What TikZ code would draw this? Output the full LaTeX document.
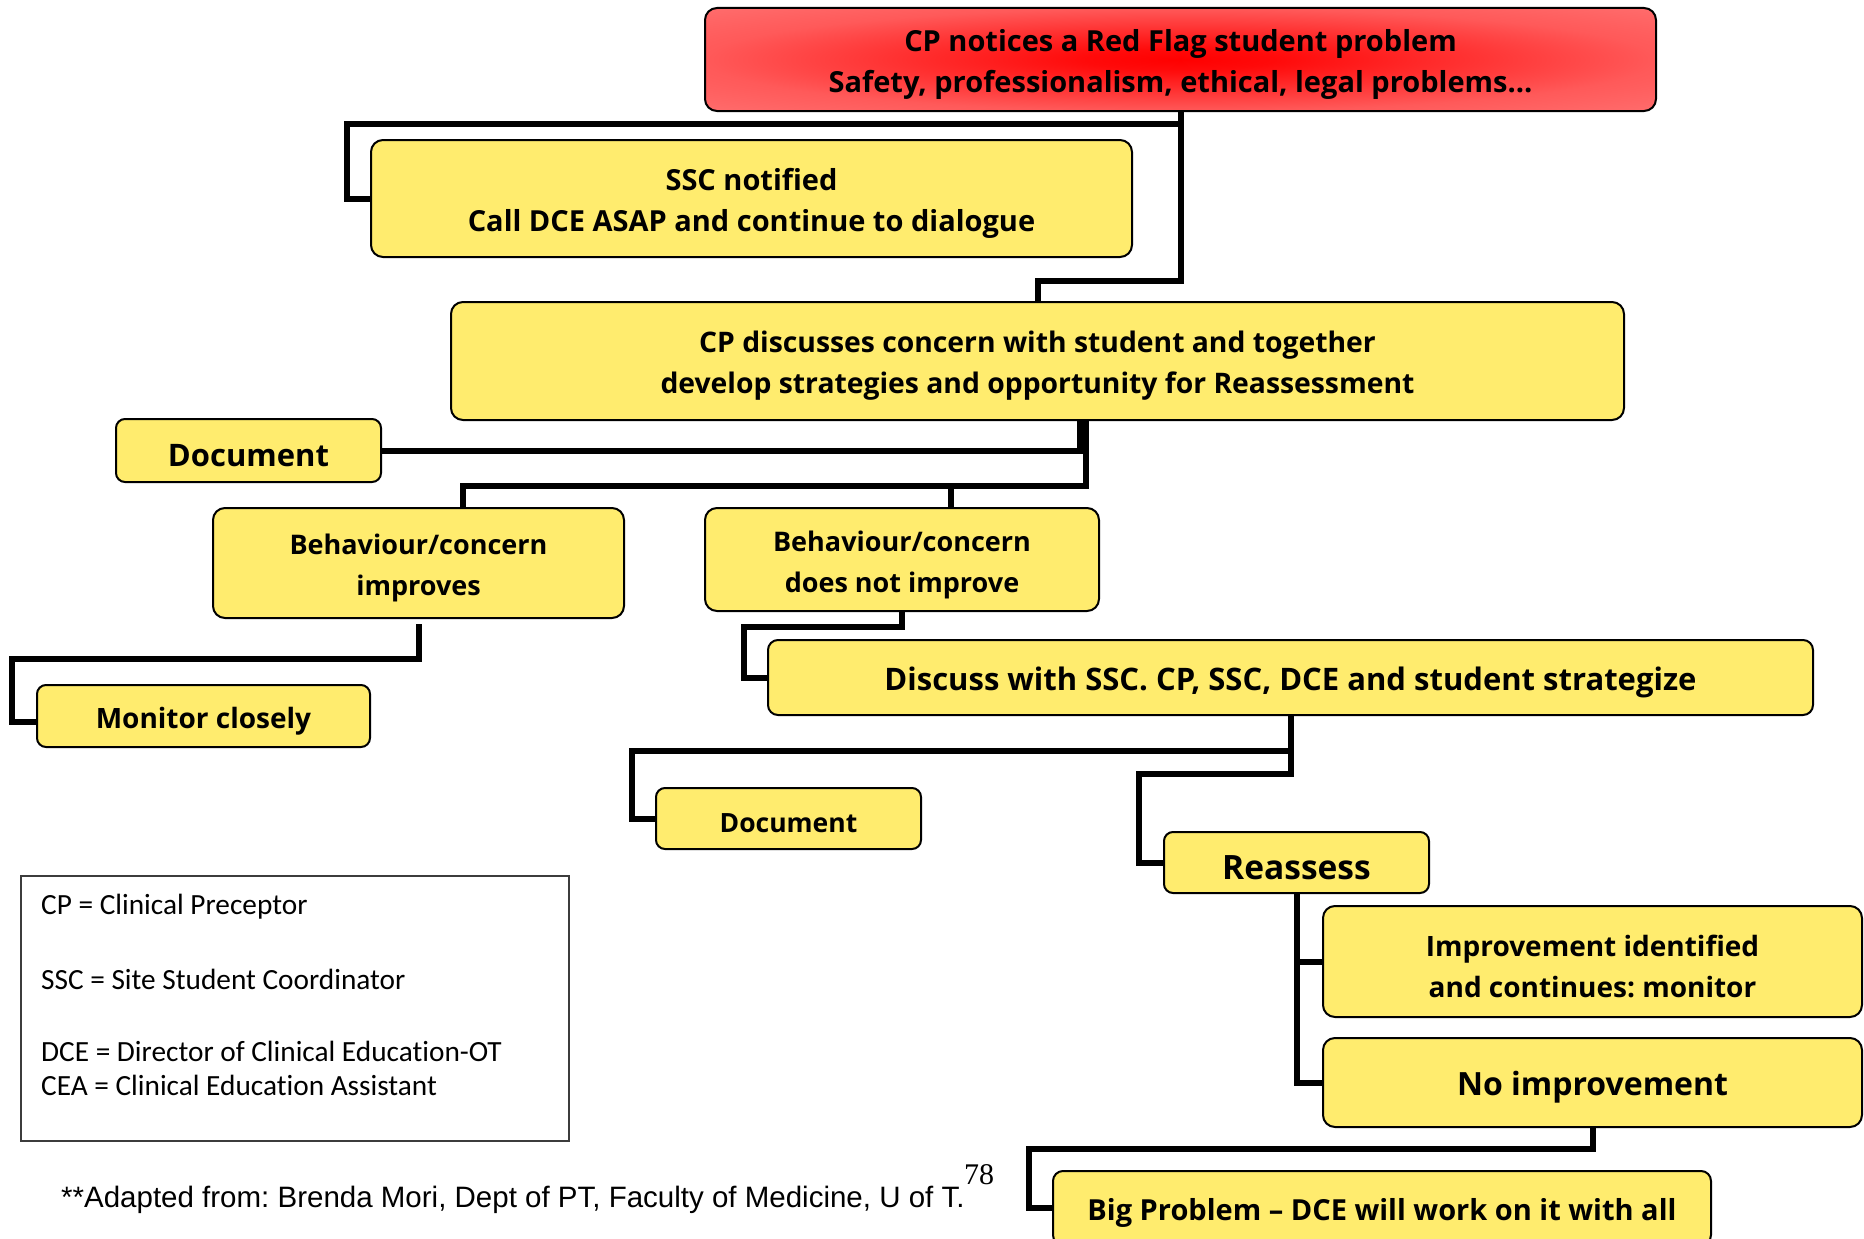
\documentclass[tikz,border=0pt]{standalone}
\usepackage{fontspec}
\setmainfont{Open Sans}
\newfontfamily\legendfont[Ligatures=NoCommon]{Carlito}
\newfontfamily\footfont{Liberation Sans}
\newfontfamily\numfont{Liberation Serif}
\frenchspacing
\definecolor{boxyellow}{RGB}{255,236,110}
\definecolor{legendgray}{RGB}{60,60,60}
\pgfdeclareradialshading{redflag}{\pgfpoint{0bp}{0bp}}{rgb(0bp)=(1,0,0); rgb(5bp)=(1,0.04,0.04); rgb(25bp)=(1,0.35,0.35); rgb(50bp)=(1,0.53,0.53); rgb(71bp)=(1,0.6,0.6)}
\pgfdeclarelayer{bg}
\pgfsetlayers{bg,main}
\newcommand{\fs}[1]{\bfseries\fontsize{#1}{41}\selectfont}
\tikzset{
  ybox/.style={draw=black, line width=2pt, fill=boxyellow, rounded corners=12pt,
    inner sep=0pt, outer sep=0pt},
  redbox/.style={ybox, fill=none, shading=redflag},
  tx/.style={inner sep=0pt, align=center, yshift=-5pt, font=\fs{29}},
  conn/.style={line width=6pt, line cap=rect, line join=miter, draw=black},
  legtext/.style={anchor=west, inner sep=0pt, font=\legendfont\fontsize{29.3}{33}\selectfont},
}
\begin{document}
\begin{tikzpicture}[x=1pt,y=-1pt]
\path[use as bounding box] (0,0) rectangle (1864,1239);
\clip (0,0) rectangle (1864,1239);
\begin{pgfonlayer}{bg}
\fill[white] (0,0) rectangle (1864,1239);
\end{pgfonlayer}

% boxes
\node[redbox, minimum width=951pt, minimum height=103pt] (red) at (1180.5,59.5) {};
\node[tx] (redT) at (red.center)
  {CP notices a Red Flag student problem\\Safety, professionalism, ethical, legal problems\ldots};
\node[ybox, minimum width=761pt, minimum height=117pt] (ssc) at (751.5,198.5) {};
\node[tx] (sscT) at (ssc.center) {SSC notified\\Call DCE ASAP and continue to dialogue};
\node[ybox, minimum width=1173pt, minimum height=118pt] (cpd) at (1037.5,361) {};
\node[tx, font=\fs{28.3}] (cpdT) at (cpd.center)
  {CP discusses concern with student and together\\develop strategies and opportunity for Reassessment};
\node[ybox, rounded corners=9pt, minimum width=265pt, minimum height=63pt] (doc1) at (248.5,450.5) {};
\node[tx, font=\fs{31}] (doc1T) at (doc1.center) {Document};
\node[ybox, minimum width=411pt, minimum height=110pt] (imp) at (418.5,563) {};
\node[tx, font=\fs{27}] (impT) at (imp.center) {Behaviour/concern\\improves};
\node[ybox, minimum width=394pt, minimum height=103pt] (dni) at (902,559.5) {};
\node[tx, font=\fs{27}] (dniT) at (dni.center) {Behaviour/concern\\does not improve};
\node[ybox, rounded corners=9pt, minimum width=333pt, minimum height=62pt] (mon) at (203.5,716) {};
\node[tx, font=\fs{28}] (monT) at (mon.center) {Monitor closely};
\node[ybox, rounded corners=10pt, minimum width=1045pt, minimum height=75pt] (dis) at (1290.5,677.5) {};
\node[tx, font=\fs{31}] (disT) at (dis.center) {Discuss with SSC. CP, SSC, DCE and student strategize};
\node[ybox, rounded corners=9pt, minimum width=265pt, minimum height=61pt] (doc2) at (788.5,818.5) {};
\node[tx, font=\fs{26.5}] (doc2T) at (doc2.center) {Document};
\node[ybox, rounded corners=9pt, minimum width=265pt, minimum height=61pt] (rea) at (1296.5,862.5) {};
\node[tx, font=\fs{33.5}] (reaT) at (rea.center) {Reassess};
\node[ybox, minimum width=539pt, minimum height=111pt] (impr) at (1592.5,961.5) {};
\node[tx, font=\fs{28}] (imprT) at (impr.center) {Improvement identified\\and continues: monitor};
\node[ybox, minimum width=539pt, minimum height=89pt] (noimp) at (1592.5,1082.5) {};
\node[tx, font=\fs{32}] (noimpT) at (noimp.center) {No improvement};
\node[ybox, rounded corners=10pt, minimum width=658pt, minimum height=74pt] (big) at (1382,1208) {};
\node[tx] (bigT) at (big.center) {Big Problem – DCE will work on it with all};

% connectors
\begin{pgfonlayer}{bg}
\draw[conn] (red.south) -- ++(0,170) -| (cpd.north);
\draw[conn] ([yshift=-13pt]red.south) -| ([xshift=-24pt]ssc.west) -- (ssc.west);
\draw[conn] (cpd.south -| 1080,0) |- (doc1.east);
\coordinate (j1) at (951,486);
\draw[conn] (cpd.south -| 1086,0) |- (463,486) -- (imp.north -| 463,0);
\draw[conn] (j1) -- (dni.north -| j1);
\draw[conn] ([yshift=-9pt]imp.south) |- (12,659) |- ([yshift=-6pt]mon.west);
\draw[conn] (dni.south) |- (744,627) |- (dis.west);
\draw[conn] (dis.south) |- (632,751) |- (doc2.west);
\draw[conn] (dis.south) |- (1139,774) |- (rea.west);
\draw[conn] (rea.south) |- (noimp.west);
\draw[conn] (rea.south |- impr.west) -- (impr.west);
\draw[conn] (noimp.south) |- (1029,1149) |- (big.west);
\end{pgfonlayer}

% legend
\draw[legendgray, line width=2pt] (21,876) rectangle (569,1141);
\node[legtext] (l1) at (41,907) {CP = Clinical Preceptor};
\node[legtext] (l2) at (41,979) {SSC = Site Student Coordinator};
\node[legtext] (l3) at (41,1051) {DCE = Director of Clinical Education-OT};
\node[legtext] (l4) at (41,1085) {CEA = Clinical Education Assistant};

% footer
\node[anchor=west, inner sep=0pt, font=\footfont\fontsize{29.5}{33}\selectfont] (src) at (61,1200)
  {**Adapted from: Brenda Mori, Dept of PT, Faculty of Medicine, U of T.};
\node[anchor=west, inner sep=0pt, font=\numfont\fontsize{30}{34}\selectfont] (pg) at (964,1175) {78};
\end{tikzpicture}
\end{document}
